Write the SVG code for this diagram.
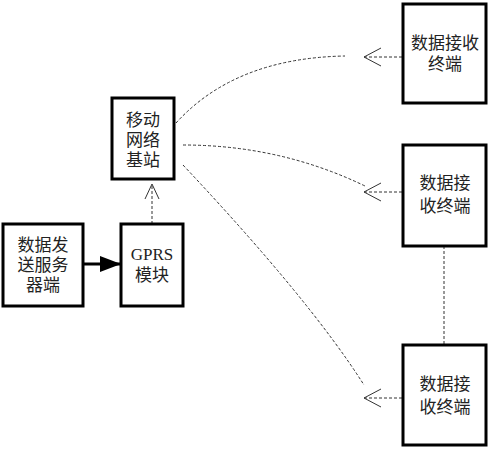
<svg xmlns="http://www.w3.org/2000/svg" width="488" height="450" viewBox="0 0 488 450">
<style>
.box{fill:#fff;stroke:#000;stroke-width:3}
.t{font-family:"Liberation Serif","Noto Sans CJK SC",serif;font-size:17px;fill:#222;text-anchor:middle;dominant-baseline:central}
.d{fill:none;stroke:#333;stroke-width:1;stroke-dasharray:3 2}
.ah{fill:none;stroke:#333;stroke-width:1}
</style>
<rect width="488" height="450" fill="#fff"/>
<g id="connectors">
<line x1="83" y1="264" x2="120" y2="264" stroke="#000" stroke-width="3"/>
<path d="M100,256 L121,264 L100,272 Z" fill="#000"/>
<line class="d" x1="152" y1="224" x2="152" y2="184"/>
<path class="ah" d="M145,199 L152,184 L159,199"/>
<path class="d" d="M176,123 Q235,58 345,56"/>
<path class="d" d="M183,145 Q280,145 365,186"/>
<path class="d" d="M183,165 Q310,300 364,385"/>
<line class="d" x1="364" y1="57" x2="403" y2="57"/>
<path class="ah" d="M381,48 L364,57 L381,66"/>
<line class="d" x1="364" y1="192" x2="403" y2="192"/>
<path class="ah" d="M381,183 L364,192 L381,201"/>
<line class="d" x1="364" y1="398" x2="403" y2="398"/>
<path class="ah" d="M381,389 L364,398 L381,407"/>
<line class="d" x1="444" y1="246" x2="444" y2="345"/>
</g>
<g id="sender">
<rect class="box" x="3" y="224" width="80" height="82"/>
<text class="t" x="43" y="245">数据发</text>
<text class="t" x="43" y="265">送服务</text>
<text class="t" x="43" y="285">器端</text>
</g>
<g id="gprs">
<rect class="box" x="121" y="224" width="62" height="82"/>
<text class="t" x="152" y="254">GPRS</text>
<text class="t" x="152" y="275">模块</text>
</g>
<g id="base">
<rect class="box" x="112" y="98" width="62" height="81"/>
<text class="t" x="143" y="120">移动</text>
<text class="t" x="143" y="140">网络</text>
<text class="t" x="143" y="160">基站</text>
</g>
<g id="recv1">
<rect class="box" x="403" y="4" width="83" height="99"/>
<text class="t" x="445" y="43">数据接收</text>
<text class="t" x="445" y="64">终端</text>
</g>
<g id="recv2">
<rect class="box" x="403" y="145" width="83" height="101"/>
<text class="t" x="445" y="183">数据接</text>
<text class="t" x="445" y="206">收终端</text>
</g>
<g id="recv3">
<rect class="box" x="403" y="345" width="83" height="100"/>
<text class="t" x="445" y="384">数据接</text>
<text class="t" x="445" y="407">收终端</text>
</g>
</svg>
